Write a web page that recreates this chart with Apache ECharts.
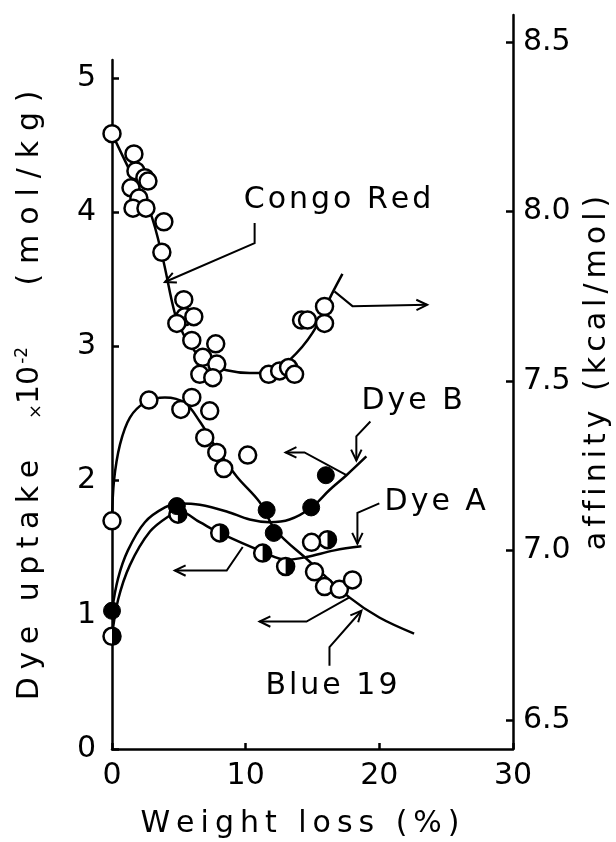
<!DOCTYPE html>
<html>
<head>
<meta charset="utf-8">
<script src="https://cdn.jsdelivr.net/npm/echarts@6/dist/echarts.min.js"></script>
<style>
  html, body { margin: 0; padding: 0; background: #fff; }
  #chart { width: 616px; height: 842px; }
</style>
</head>
<body>
<div id="chart"></div>
<script>
// ---- axis ticks ----
const xTicks = [0, 10, 20, 30];
const uptakeTicks = [0, 1, 2, 3, 4, 5];
const affinityTicks = [6.5, 7.0, 7.5, 8.0, 8.5];

// ---- Congo Red: affinity (kcal/mol) vs weight loss (%) ----
const congoX = [0, 1.64, 1.79, 2.46, 2.69, 1.42, 2.01, 1.57, 2.54, 3.88, 3.73, 5.37, 5.45, 4.85, 6.12, 5.97, 6.79, 6.57, 7.76, 7.84, 7.54, 11.72, 12.54, 13.21, 13.66, 14.18, 14.63, 15.90, 15.90];
const congoY = [8.23, 8.17, 8.12, 8.10, 8.09, 8.07, 8.04, 8.01, 8.01, 7.97, 7.88, 7.74, 7.69, 7.67, 7.69, 7.62, 7.57, 7.52, 7.61, 7.55, 7.51, 7.52, 7.53, 7.54, 7.52, 7.68, 7.68, 7.72, 7.67];
const congoFitX = [0, 1.34, 2.84, 3.81, 4.70, 5.37, 5.97, 6.94, 8.58, 10.30, 11.72, 13.28, 15.00, 16.49, 17.24];
const congoFitY = [8.23, 8.12, 8.00, 7.86, 7.70, 7.636, 7.60, 7.556, 7.532, 7.524, 7.524, 7.562, 7.642, 7.76, 7.816];

// ---- Blue 19: dye uptake (x10^-2 mol/kg) ----
const blue19X = [0, 2.76, 5.15, 5.97, 7.31, 6.94, 7.84, 8.36, 10.15, 14.93, 15.15, 15.90, 17.01, 17.99];
const blue19Y = [1.70, 2.60, 2.53, 2.62, 2.52, 2.32, 2.21, 2.09, 2.19, 1.54, 1.32, 1.21, 1.19, 1.26];
const blue19FitX = [0, 0.15, 0.6, 1.34, 2.46, 3.96, 5.45, 6.57, 7.69, 9.33, 11.04, 12.24, 14.63, 17.76, 20.0, 22.6];
const blue19FitY = [1.70, 2.00, 2.27, 2.47, 2.58, 2.62, 2.58, 2.44, 2.26, 2.03, 1.84, 1.63, 1.41, 1.13, 0.98, 0.86];

// ---- Dye B: dye uptake ----
const dyeBX = [0, 4.85, 11.57, 12.1, 14.9, 16.0];
const dyeBY = [1.03, 1.81, 1.78, 1.61, 1.80, 2.04];
const dyeBFitX = [0, 0.45, 1.19, 2.46, 3.96, 5.07, 6.57, 8.58, 10.3, 11.79, 13.28, 14.93, 16.27, 17.54, 19.03];
const dyeBFitY = [1.03, 1.27, 1.48, 1.69, 1.80, 1.83, 1.82, 1.77, 1.71, 1.69, 1.71, 1.80, 1.93, 2.04, 2.18];

// ---- Dye A: dye uptake ----
const dyeAX = [0, 4.93, 8.06, 11.27, 12.99, 16.12];
const dyeAY = [0.84, 1.75, 1.61, 1.46, 1.36, 1.56];
const dyeAFitX = [0, 0.45, 1.34, 2.84, 4.33, 5.07, 6.57, 8.06, 11.27, 13.06, 14.55, 16.64, 18.66];
const dyeAFitY = [0.84, 1.11, 1.37, 1.62, 1.74, 1.77, 1.69, 1.61, 1.47, 1.41, 1.43, 1.48, 1.51];

const zip = (xs, ys) => xs.map((x, i) => [x, ys[i]]);

const INK = '#000';
const FONT = 'DejaVu Sans';
const FS = 30;
const LW = 2.5;
const R = 8.5;

// letter-spaced text helper
const spaced = (s, gap) => s.split('').join(gap);

const tickLabel = { color: INK, fontFamily: FONT, fontSize: FS };

const option = {
  animation: false,
  backgroundColor: '#fff',
  grid: [
    { left: 112, right: 103, top: 15, bottom: 93 },   // affinity frame
    { left: 112, right: 103, top: 60, bottom: 93 }    // uptake frame
  ],
  xAxis: [
    { gridIndex: 0, type: 'value', min: 0, max: 30, show: false },
    {
      gridIndex: 1, type: 'value', min: 0, max: 30, interval: 10,
      axisLine: { show: true, lineStyle: { color: INK, width: LW } },
      axisTick: { show: true, inside: true, length: 6, lineStyle: { color: INK, width: LW } },
      axisLabel: Object.assign({ margin: 12, customValues: xTicks }, tickLabel),
      splitLine: { show: false }
    }
  ],
  yAxis: [
    {
      gridIndex: 0, type: 'value', position: 'right', min: 6.4145, max: 8.58,
      axisLine: { show: true, onZero: false, lineStyle: { color: INK, width: LW } },
      axisTick: { show: true, inside: true, length: 7, customValues: affinityTicks, lineStyle: { color: INK, width: LW } },
      axisLabel: Object.assign({ margin: 10, customValues: affinityTicks, formatter: v => v.toFixed(1) }, tickLabel),
      splitLine: { show: false }
    },
    {
      gridIndex: 1, type: 'value', position: 'left', min: 0, max: 5.134,
      axisLine: { show: true, onZero: false, lineStyle: { color: INK, width: LW } },
      axisTick: { show: true, inside: true, length: 7, customValues: uptakeTicks, lineStyle: { color: INK, width: LW } },
      axisLabel: Object.assign({ margin: 16, customValues: uptakeTicks }, tickLabel),
      splitLine: { show: false }
    }
  ],
  series: [
    // fitted curves
    { type: 'line', xAxisIndex: 0, yAxisIndex: 0, data: zip(congoFitX, congoFitY), smooth: 0.35, showSymbol: false, z: 2,
      lineStyle: { color: INK, width: LW } },
    { type: 'line', xAxisIndex: 1, yAxisIndex: 1, data: zip(blue19FitX, blue19FitY), smooth: 0.35, showSymbol: false, z: 2,
      lineStyle: { color: INK, width: LW } },
    { type: 'line', xAxisIndex: 1, yAxisIndex: 1, data: zip(dyeBFitX, dyeBFitY), smooth: 0.35, showSymbol: false, z: 2,
      lineStyle: { color: INK, width: LW } },
    { type: 'line', xAxisIndex: 1, yAxisIndex: 1, data: zip(dyeAFitX, dyeAFitY), smooth: 0.35, showSymbol: false, z: 2,
      lineStyle: { color: INK, width: LW } },
    // markers
    { type: 'scatter', name: 'Congo Red', xAxisIndex: 0, yAxisIndex: 0, data: zip(congoX, congoY), symbol: 'circle', symbolSize: 2 * R, z: 4,
      itemStyle: { color: '#fff', borderColor: INK, borderWidth: LW, opacity: 1 } },
    { type: 'scatter', name: 'Blue 19', xAxisIndex: 1, yAxisIndex: 1, data: zip(blue19X, blue19Y), symbol: 'circle', symbolSize: 2 * R, z: 4,
      itemStyle: { color: '#fff', borderColor: INK, borderWidth: LW, opacity: 1 } },
    { type: 'scatter', name: 'Dye B', xAxisIndex: 1, yAxisIndex: 1, data: zip(dyeBX, dyeBY), symbol: 'circle', symbolSize: 2 * R, z: 5,
      itemStyle: { color: INK, borderColor: INK, borderWidth: 1, opacity: 1 } },
    { type: 'custom', name: 'Dye A', xAxisIndex: 1, yAxisIndex: 1, data: zip(dyeAX, dyeAY), z: 4,
      renderItem: (params, api) => {
        const p = api.coord([api.value(0), api.value(1)]);
        return {
          type: 'group',
          children: [
            { type: 'circle', shape: { cx: p[0], cy: p[1], r: R }, style: { fill: '#fff', stroke: INK, lineWidth: LW } },
            { type: 'sector', shape: { cx: p[0], cy: p[1], r0: 0, r: R, startAngle: -Math.PI / 2, endAngle: Math.PI / 2, clockwise: true },
              style: { fill: INK } }
          ]
        };
      } }
  ]
};

const chart = echarts.init(document.getElementById('chart'), null, { renderer: 'canvas' });
chart.setOption(option);

// ---- curve labels and leader arrows, placed in uptake-axis units ----
const notes = [
  { text: 'Congo Red', gap: '\u200A', at: [16.87, 4.09], path: [[10.67, 3.92], [10.67, 3.77], [3.96, 3.48]] },
  { text: null, path: [[16.64, 3.41], [17.99, 3.30], [23.58, 3.31]] },
  { text: 'Dye B', gap: '\u200A', at: [22.46, 2.59], path: [[19.33, 2.44], [18.28, 2.33], [18.28, 2.15]] },
  { text: null, path: [[17.54, 2.04], [14.4, 2.21], [12.99, 2.21]] },
  { text: 'Dye A', gap: '\u200A', at: [24.18, 1.84], path: [[20.0, 1.83], [18.36, 1.76], [18.36, 1.53]] },
  { text: null, path: [[9.78, 1.505], [8.58, 1.33], [4.70, 1.33]] },
  { text: 'Blue 19', gap: '\u200A', at: [16.42, 0.47], path: [[16.27, 0.62], [16.27, 0.76], [18.66, 1.03]] },
  { text: null, path: [[17.76, 1.13], [14.55, 0.95], [11.04, 0.95]] }
];

const toPx = v => chart.convertToPixel({ xAxisIndex: 1, yAxisIndex: 1 }, v);

function arrowHead(tip, from, len, ang) {
  const dx = tip[0] - from[0], dy = tip[1] - from[1];
  const d = Math.hypot(dx, dy) || 1;
  const ux = dx / d, uy = dy / d;
  const rot = a => [ux * Math.cos(a) - uy * Math.sin(a), ux * Math.sin(a) + uy * Math.cos(a)];
  const a1 = rot(ang), a2 = rot(-ang);
  return [[tip[0] - len * a1[0], tip[1] - len * a1[1]], tip, [tip[0] - len * a2[0], tip[1] - len * a2[1]]];
}

const graphics = [];
notes.forEach(n => {
  const pts = n.path.map(toPx);
  graphics.push({ type: 'polyline', shape: { points: pts }, style: { stroke: INK, lineWidth: 2, fill: null }, z: 10 });
  const head = arrowHead(pts[pts.length - 1], pts[pts.length - 2], 12, 0.45);
  graphics.push({ type: 'polyline', shape: { points: head }, style: { stroke: INK, lineWidth: 2, fill: null }, z: 10 });
  if (n.text) {
    const p = toPx(n.at);
    graphics.push({ type: 'text', x: p[0], y: p[1], z: 10,
      style: { text: spaced(n.text, n.gap), font: FS + 'px ' + FONT, fill: INK, align: 'center', verticalAlign: 'middle' } });
  }
});

// axis titles
graphics.push({ type: 'text', x: 300, y: 824, z: 10,
  style: { text: spaced('Weight loss (%)', '\u2009'), font: FS + 'px ' + FONT, fill: INK, align: 'center', verticalAlign: 'middle' } });
graphics.push({ type: 'text', x: 30, y: 580, rotation: Math.PI / 2, z: 10,
  style: { text: spaced('Dye uptake', '\u2005'), font: FS + 'px ' + FONT, fill: INK, align: 'center', verticalAlign: 'middle' } });
graphics.push({ type: 'text', x: 30, y: 383, rotation: Math.PI / 2, z: 10,
  style: { text: '{m|\u00D7}{n|10}{s|-2}', fill: INK, align: 'center', verticalAlign: 'middle',
    rich: { m: { fontFamily: FONT, fontSize: 18, fill: INK, verticalAlign: 'bottom' },
            n: { fontFamily: FONT, fontSize: FS, fill: INK },
            s: { fontFamily: FONT, fontSize: 17, fill: INK, verticalAlign: 'top', padding: [0, 0, 14, 2] } } } });
graphics.push({ type: 'text', x: 30, y: 188, rotation: Math.PI / 2, z: 10,
  style: { text: spaced('(mol/kg)', '\u2004'), font: FS + 'px ' + FONT, fill: INK, align: 'center', verticalAlign: 'middle' } });
graphics.push({ type: 'text', x: 597, y: 373, rotation: Math.PI / 2, z: 10,
  style: { text: spaced('affinity (kcal/mol)', '\u2006'), font: FS + 'px ' + FONT, fill: INK, align: 'center', verticalAlign: 'middle' } });

chart.setOption({ graphic: graphics });
</script>
</body>
</html>
